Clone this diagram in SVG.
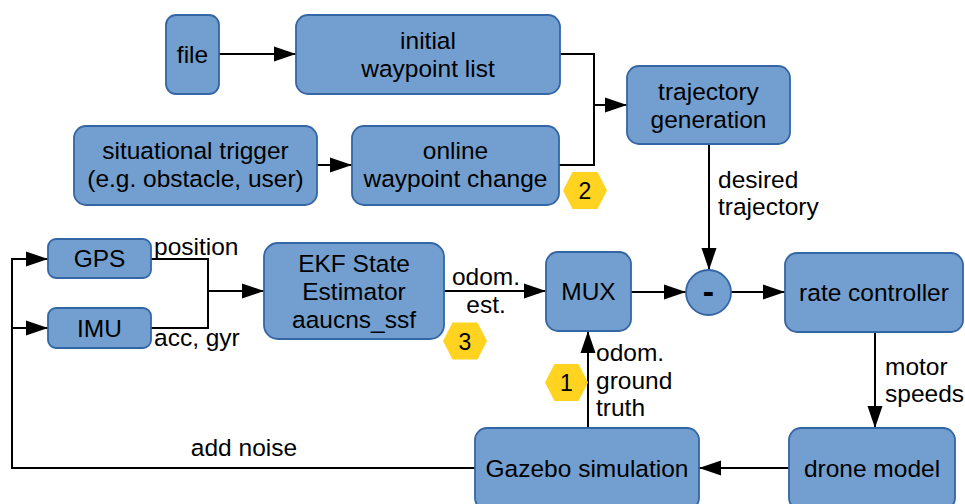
<svg xmlns="http://www.w3.org/2000/svg" width="965" height="504" viewBox="0 0 965 504">
<defs>
<style>
.box{fill:#729fcf;stroke:#3465a4;stroke-width:1.8}
.t{font-family:"Liberation Sans",Arial,sans-serif;font-size:24.5px;fill:#000;text-anchor:middle}
.l{font-family:"Liberation Sans",Arial,sans-serif;font-size:24.5px;fill:#000}
.hex{fill:#ffd320;stroke:none}
.n{font-family:"Liberation Sans",Arial,sans-serif;font-size:23px;fill:#000;text-anchor:middle}
.c{fill:none;stroke:#000;stroke-width:2}
</style>
<marker id="ah" markerUnits="userSpaceOnUse" markerWidth="22" markerHeight="16" refX="22" refY="8" orient="auto">
<path d="M0,0.5 L22,8 L0,15.5 z" fill="#000"/>
</marker>
</defs>
<rect width="965" height="504" fill="#fff"/>
<g id="connectors">
<path class="c" d="M219,54 H296" marker-end="url(#ah)"/>
<path class="c" d="M560,54 H594 V105 H627" marker-end="url(#ah)"/>
<path class="c" d="M559,165 H594 V105"/>
<path class="c" d="M317,165 H352" marker-end="url(#ah)"/>
<path class="c" d="M709,144 V270" marker-end="url(#ah)"/>
<path class="c" d="M151,259 H208 V328 H151"/>
<path class="c" d="M208,291 H264" marker-end="url(#ah)"/>
<path class="c" d="M444,291 H546" marker-end="url(#ah)"/>
<path class="c" d="M631,292 H686" marker-end="url(#ah)"/>
<path class="c" d="M731,292 H785" marker-end="url(#ah)"/>
<path class="c" d="M875,332 V428" marker-end="url(#ah)"/>
<path class="c" d="M789,468 H699" marker-end="url(#ah)"/>
<path class="c" d="M588,428 V331" marker-end="url(#ah)"/>
<path class="c" d="M475,468 H12 V259 H48" marker-end="url(#ah)"/>
<path class="c" d="M12,328 H48" marker-end="url(#ah)"/>
<text class="l" x="718" y="188">desired</text>
<text class="l" x="718" y="215">trajectory</text>
<text class="l" x="154" y="255">position</text>
<text class="l" x="154" y="346">acc, gyr</text>
<text class="t" x="486" y="285">odom.</text>
<text class="t" x="486" y="313">est.</text>
<text class="l" x="596" y="361">odom.</text>
<text class="l" x="596" y="389">ground</text>
<text class="l" x="596" y="416">truth</text>
<text class="l" x="885" y="375">motor</text>
<text class="l" x="885" y="402">speeds</text>
<text class="t" x="244" y="456">add noise</text>
</g>
<g id="file"><rect class="box" x="166" y="15" width="53" height="79" rx="10"/><text class="t" x="192.5" y="63">file</text></g>
<g id="initial"><rect class="box" x="296" y="15" width="264" height="79" rx="12"/><text class="t" x="428" y="49">initial</text><text class="t" x="428" y="77">waypoint list</text></g>
<g id="situational"><rect class="box" x="74" y="126" width="243" height="79" rx="12"/><text class="t" x="195.5" y="159">situational trigger</text><text class="t" x="195.5" y="187">(e.g. obstacle, user)</text></g>
<g id="online"><rect class="box" x="352" y="126" width="207" height="79" rx="12"/><text class="t" x="455.5" y="159">online</text><text class="t" x="455.5" y="187">waypoint change</text></g>
<g id="trajectory"><rect class="box" x="627" y="66" width="163" height="78" rx="12"/><text class="t" x="708.5" y="100">trajectory</text><text class="t" x="708.5" y="128">generation</text></g>
<g id="gps"><rect class="box" x="48" y="239" width="103" height="39" rx="8"/><text class="t" x="99.5" y="267">GPS</text></g>
<g id="imu"><rect class="box" x="48" y="308" width="103" height="40" rx="8"/><text class="t" x="99.5" y="337">IMU</text></g>
<g id="ekf"><rect class="box" x="264" y="243" width="180" height="96" rx="14"/><text class="t" x="354" y="272">EKF State</text><text class="t" x="354" y="300">Estimator</text><text class="t" x="354" y="328">aaucns_ssf</text></g>
<g id="mux"><rect class="box" x="546" y="252" width="85" height="79" rx="12"/><text class="t" x="588.5" y="300">MUX</text></g>
<g id="minus"><circle class="box" cx="708.5" cy="292.5" r="22.5"/><text x="708.5" y="303" font-family="Liberation Sans, Arial, sans-serif" font-size="34" font-weight="bold" text-anchor="middle">-</text></g>
<g id="rate"><rect class="box" x="785" y="253" width="178" height="79" rx="12"/><text class="t" x="874" y="301">rate controller</text></g>
<g id="drone"><rect class="box" x="789" y="428" width="166" height="82" rx="12"/><text class="t" x="872" y="477">drone model</text></g>
<g id="gazebo"><rect class="box" x="475" y="428" width="224" height="82" rx="12"/><text class="t" x="587" y="477">Gazebo simulation</text></g>
<g id="badge2"><polygon class="hex" points="563,190.5 572.5,172 597.5,172 607,190.5 597.5,209 572.5,209"/><text class="n" x="585" y="199">2</text></g>
<g id="badge3"><polygon class="hex" points="443,341 452.5,322.5 477.5,322.5 487,341 477.5,359.5 452.5,359.5"/><text class="n" x="465" y="349.5">3</text></g>
<g id="badge1"><polygon class="hex" points="545,382.5 554.5,364 578.5,364 588,382.5 578.5,401 554.5,401"/><text class="n" x="566.5" y="391">1</text></g>
</svg>
